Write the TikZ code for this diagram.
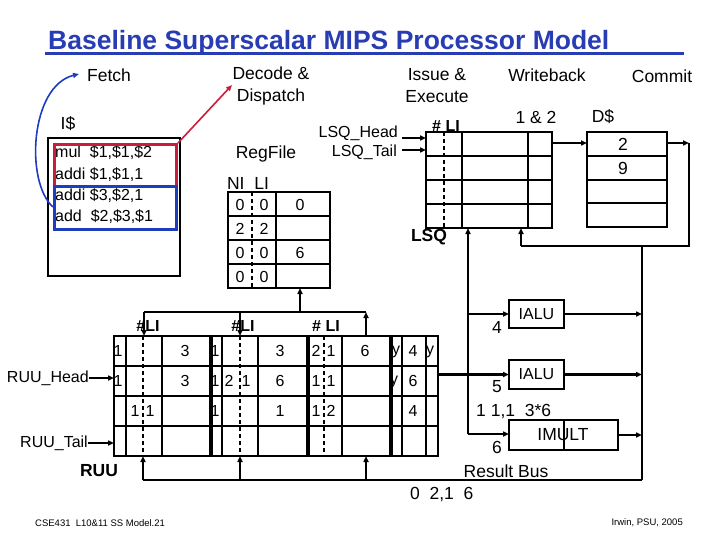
\documentclass[tikz,border=0pt]{standalone}
\usepackage{fontspec}
\setmainfont{Liberation Sans}
\usetikzlibrary{arrows.meta}
\definecolor{titleblue}{RGB}{40,60,180}
\definecolor{curveblue}{RGB}{30,60,190}
\definecolor{boxred}{RGB}{200,30,60}
\begin{document}
\begin{tikzpicture}[x=1pt,y=-1pt,
  tbl/.style={draw, line width=2.3pt, inner sep=0pt, outer sep=0pt, anchor=north west},
  fbox/.style={draw, line width=2.2pt, inner sep=0pt, outer sep=0pt, anchor=north west},
  hdr/.style={font=\fontsize{17.5}{22}\selectfont, inner sep=0pt, align=center},
  lbl/.style={font=\fontsize{16}{18}\selectfont, inner sep=0pt},
  bl/.style={font=\bfseries\fontsize{16}{18}\selectfont, inner sep=0pt},
  thin/.style={font=\fontsize{16}{18}\selectfont, inner sep=0pt},
  code/.style={font=\fontsize{16}{21.3}\selectfont, inner sep=0pt, anchor=west, align=left},
  arr/.style={-{Triangle[length=6pt,width=5pt]}, line width=2.2pt},
  ln/.style={line width=2.3pt},
  thk/.style={line width=4pt},
  dsh/.style={line width=2pt, dash pattern=on 4pt off 3pt},
  foot/.style={font=\fontsize{9.5}{11}\selectfont, inner sep=0pt}
]
\useasboundingbox (0,0) rectangle (720,540);

% ---------- title ----------
\node[font=\bfseries\fontsize{26.5}{30}\selectfont, text=titleblue, inner sep=0pt, anchor=base west] (title) at (48,50) {Baseline Superscalar MIPS Processor Model};
\draw[titleblue, line width=3pt] (45,54) -- (684,54);

% ---------- stage headers ----------
\node[hdr] (fetch) at (109,75) {Fetch};
\node[hdr] (decode) at (271,86) {Decode \&\\Dispatch};
\node[hdr] (issue) at (437,86) {Issue \&\\Execute};
\node[hdr] (wb) at (547,75) {Writeback};
\node[hdr] (commit) at (662,76) {Commit};

% ---------- I$ ----------
\node[hdr] (icl) at (68,124) {I\$};
\node[fbox, line width=2.3pt, minimum width=132pt, minimum height=138pt] (icache) at (48,138) {};
\node[code] (c1) at (55,153) {mul\ \ \$1,\$1,\$2};
\node[code] (c2) at (55,175) {addi \$1,\$1,1};
\node[code] (c3) at (55,196) {addi \$3,\$2,1};
\node[code] (c4) at (55,217) {add\ \ \$2,\$3,\$1};
\node[draw=boxred, line width=3pt, inner sep=0pt, anchor=north west, minimum width=122pt, minimum height=42pt] (redbox) at (53,143) {};
\node[draw=curveblue, line width=3pt, inner sep=0pt, anchor=north west, minimum width=122pt, minimum height=43pt] (bluebox) at (53,185) {};
\coordinate (fetchtip) at (79,74);
\coordinate (dectip) at (232,85);
\draw[curveblue, line width=1.6pt, -{Triangle[length=6pt,width=5pt]}] (bluebox.west |- 0,207) .. controls (25,182) and (30,86) .. (fetchtip);
\draw[boxred, line width=1.6pt, -{Triangle[length=6pt,width=5pt]}] (redbox.north east) -- (dectip);

% ---------- RegFile ----------
\node[hdr] (rfl) at (266,154) {RegFile};
\node[hdr] (nili) at (248,183) {NI\ \ LI};
\node[tbl, minimum width=102pt, minimum height=96pt] (rf) at (228,192) {};
\foreach \y in {216,240,264} \draw[ln] (228,\y) -- (330,\y);
\draw[ln] (276,192) -- (276,288);
\draw[dsh] (252,192) -- (252,288);
\node[lbl] (rf11) at (240,205) {0}; \node[lbl] (rf12) at (264,205) {0}; \node[lbl] (rf13) at (300,205) {0};
\node[lbl] (rf21) at (240,229) {2}; \node[lbl] (rf22) at (264,229) {2};
\node[lbl] (rf31) at (240,253) {0}; \node[lbl] (rf32) at (264,253) {0}; \node[lbl] (rf33) at (300,253) {6};
\node[lbl] (rf41) at (240,277) {0}; \node[lbl] (rf42) at (264,277) {0};

% ---------- LSQ ----------
\node[bl] (lsqli) at (446,126) {\# LI};
\node[hdr] (l12) at (536,117) {1 \& 2};
\node[hdr] (dsl) at (603,117) {D\$};
\node[tbl, minimum width=126pt, minimum height=96pt] (lsq) at (426,132) {};
\foreach \y in {156,180,204} \draw[ln] (426,\y) -- (552,\y);
\draw[ln] (462,132) -- (462,228);
\draw[ln] (528,132) -- (528,228);
\draw[dsh] (444,132) -- (444,228);
\node[thin, anchor=east] (lsqh) at (398,133) {LSQ\_Head};
\node[thin, anchor=east] (lsqt) at (397,152) {LSQ\_Tail};
\draw[arr] (lsqh.east |- 0,138) ++(4,0) -- (lsq.west |- 0,138);
\draw[arr] (lsqt.east |- 0,150) ++(5,0) -- (lsq.west |- 0,150);
\node[hdr, font=\bfseries\fontsize{17.5}{22}\selectfont] (lsql) at (429,237) {LSQ};

% ---------- D$ ----------
\node[tbl, minimum width=80pt, minimum height=95pt] (dc) at (587,132) {};
\foreach \y in {156,180,203} \draw[ln] (587,\y) -- (667,\y);
\node[hdr] (d1) at (623,144) {2};
\node[hdr] (d2) at (623,168) {9};
\draw[arr] (lsq.east |- 0,143) -- (dc.west |- 0,143);
\coordinate (dcR) at (689,143);
\coordinate (dcRB) at (689,246);
\coordinate (lsqfb) at (521,246);
\coordinate (busTR) at (642,246);
\coordinate (busBR) at (642,480);
\draw[arr] (dc.east |- dcR) -- (dcR);
\draw[ln] (dcR) -- (dcRB) -- (lsqfb);
\draw[arr] (lsqfb) -- (lsqfb |- lsq.south);
\draw[ln] (busTR) -- (busBR);

% ---------- functional units ----------
\node[fbox, minimum width=55pt, minimum height=28pt] (alu1) at (509,300) {};
\node[thin] (alu1t) at (alu1.center) {IALU};
\node[fbox, minimum width=55pt, minimum height=29pt] (alu2) at (509,360) {};
\node[thin] (alu2t) at (alu2.center) {IALU};
\node[fbox, minimum width=109pt, minimum height=30pt] (mult) at (509,420) {};
\node[hdr] (multt) at (563,435) {IMULT};
\draw[line width=1.6pt] (564,420) -- (564,450);
\node[hdr] (n4) at (497,327) {4};
\node[hdr] (n5) at (497,387) {5};
\node[hdr] (n6) at (497,447) {6};
\node[hdr, anchor=west] (mt) at (476,412) {1 1,1\ \ 3*6};
\draw[arr] (alu1.east) -- (alu1.east -| busBR);
\draw[arr] (alu2.east) -- (alu2.east -| busBR);
\draw[arr] (mult.east) -- (mult.east -| busBR);
\coordinate (dispT) at (468,228);
\coordinate (dispB) at (468,434);
\draw[arr] (dispB) -- (dispT);
\draw[arr] (dispB |- alu1.west) -- (alu1.west);
\draw[arr] (dispB) -- (mult.west |- dispB);

% ---------- RUU ----------
\node[tbl, minimum width=324pt, minimum height=120pt] (ruu) at (114,336) {};
\foreach \y in {366,396,426} \draw[ln] (114,\y) -- (438,\y);
\foreach \x in {126,162,222,258,342,402,426} \draw[ln] (\x,336) -- (\x,456);
\foreach \x in {211,308,391} \draw[thk] (\x,336) -- (\x,456);
\foreach \x in {143,240,324} \draw[dsh] (\x,336) -- (\x,456);
% row 1
\node[lbl] (r11) at (118,351) {1}; \node[lbl] (r12) at (185,351) {3};
\node[lbl] (r13) at (215,351) {1}; \node[lbl] (r14) at (280,351) {3};
\node[lbl] (r15) at (316,351) {2}; \node[lbl] (r16) at (331,351) {1};
\node[lbl] (r17) at (365,351) {6}; \node[lbl] (r18) at (396,352) {y};
\node[lbl] (r19) at (413,351) {4}; \node[lbl] (r1a) at (430,352) {y};
% row 2
\node[lbl] (r21) at (118,381) {1}; \node[lbl] (r22) at (185,381) {3};
\node[lbl] (r23) at (215,381) {1}; \node[lbl] (r24) at (229,381) {2};
\node[lbl] (r25) at (246,381) {1}; \node[lbl] (r26) at (280,381) {6};
\node[lbl] (r27) at (316,381) {1}; \node[lbl] (r28) at (331,381) {1};
\node[lbl] (r29) at (394,382) {y}; \node[lbl] (r2a) at (413,381) {6};
% row 3
\node[lbl] (r31) at (135,411) {1}; \node[lbl] (r32) at (150,411) {1};
\node[lbl] (r33) at (215,411) {1}; \node[lbl] (r34) at (280,411) {1};
\node[lbl] (r35) at (316,411) {1}; \node[lbl] (r36) at (331,411) {2};
\node[lbl] (r37) at (413,411) {4};
% labels
\node[bl] (li1) at (148,326) {\#LI};
\node[bl] (li2) at (243,326) {\#LI};
\node[bl] (li3) at (326,326) {\# LI};
\node[thin, anchor=east] (ruuh) at (89,378) {RUU\_Head};
\node[thin, anchor=east] (ruut) at (88,443) {RUU\_Tail};
\draw[arr] (ruuh.east) -- (ruuh.east -| ruu.west);
\draw[arr] (ruut.east) -- (ruut.east -| ruu.west);
\node[hdr, font=\bfseries\fontsize{17.5}{22}\selectfont] (ruul) at (99,471) {RUU};

% RUU to IALU2
\draw[arr] (ruu.east |- alu2.west) -- (alu2.west);

% writeback from RUU to RegFile / RUU
\coordinate (wbR) at (366,312);
\coordinate (wbL) at (144,312);
\coordinate (wbM) at (240,312);
\draw[arr] (wbR |- ruu.north) -- (wbR);
\draw[ln] (wbL) -- (wbR);
\draw[arr] (wbL) -- (wbL |- ruu.north);
\draw[arr] (wbM) -- (wbM |- ruu.north);
\draw[arr] (300,312) -- (rf.south -| 300,0);

% result bus
\coordinate (busBL) at (143,480);
\draw[ln] (busBL) -- (busBR);
\draw[arr] (busBL) -- (busBL |- ruu.south);
\draw[arr] (240,480) -- (ruu.south -| 240,0);
\draw[arr] (366,480) -- (ruu.south -| 366,0);
\node[hdr] (rb) at (506,471) {Result Bus};
\node[hdr, anchor=west] (rbv) at (410,495) {0\ \ 2,1\ \ 6};

% footer
\node[foot, anchor=west] (fl) at (35,523) {CSE431\ \ L10\&11 SS Model.21};
\node[foot, anchor=east] (fr) at (683,523) {Irwin, PSU, 2005};
\end{tikzpicture}
\end{document}
